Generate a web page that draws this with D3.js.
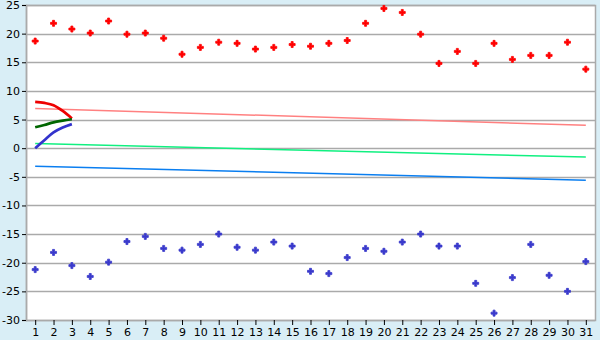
<!DOCTYPE html>
<html>
<head>
<meta charset="utf-8">
<script src="https://cdn.jsdelivr.net/npm/d3@7"></script>
<style>
  body { margin: 0; background: #d9eef6; }
  svg { display: block; }
  .tick text { font-family: "DejaVu Sans", Verdana, sans-serif; font-size: 11px; fill: #000; }
</style>
</head>
<body>
<div id="chart"></div>
<script>
let width = 600, height = 340;
let margin = {top: 5, right: 5, bottom: 20, left: 26};

let days = d3.range(1, 32);
let yTicks = [25, 20, 15, 10, 5, 0, -5, -10, -15, -20, -25, -30];

// daily highs (red) and lows (blue)
let highs = [18.7, 21.8, 20.8, 20.1, 22.2, 19.9, 20.1, 19.2, 16.4, 17.6, 18.5, 18.3, 17.3, 17.6, 18.1,
             17.8, 18.3, 18.8, 21.8, 24.4, 23.7, 19.9, 14.8, 16.9, 14.8, 18.3, 15.5, 16.2, 16.2, 18.5, 13.8];
let lows = [-21.2, -18.2, -20.5, -22.4, -19.9, -16.3, -15.4, -17.5, -17.8, -16.8, -15.0, -17.3, -17.8, -16.4, -17.1,
            -21.5, -21.9, -19.1, -17.5, -18.0, -16.4, -15.0, -17.1, -17.1, -23.6, -28.8, -22.6, -16.8, -22.2, -25.0, -19.8];

// trend lines (start and end values)
let trendDays = [1, 31];
let trendPink = [6.95, 4.0];
let trendGreen = [0.8, -1.55];
let trendBlue = [-3.15, -5.6];

// short thick curves over the first days
let curveDays = [1, 1.5, 2, 2.5, 3];
let curveRed = [8.1, 7.9, 7.5, 6.5, 5.2];
let curveGreen = [3.65, 4.05, 4.5, 4.8, 5.05];
let curveBlue = [0.0, 1.4, 2.75, 3.6, 4.2];

let svg = d3.select("#chart").append("svg")
    .attr("width", width)
    .attr("height", height);

let plotW = width - margin.left - margin.right;
let plotH = height - margin.top - margin.bottom;

let g = svg.append("g")
    .attr("transform", `translate(${margin.left}, ${margin.top})`);

let x = d3.scaleLinear()
    .domain([0.5, 31.5])
    .range([0, plotW]);

let y = d3.scaleLinear()
    .domain([-30, 25])
    .range([plotH, 0]);

g.append("rect")
    .attr("width", plotW)
    .attr("height", plotH)
    .attr("fill", "#fff");

// gridlines
g.append("g")
    .selectAll("line")
    .data(yTicks)
    .enter()
    .append("line")
    .attr("x1", 0)
    .attr("x2", plotW)
    .attr("y1", d => Math.round(y(d)) + 0.5)
    .attr("y2", d => Math.round(y(d)) + 0.5)
    .attr("stroke", "#aaa")
    .attr("stroke-width", 1.5);

g.append("rect")
    .attr("x", 0.5)
    .attr("y", 0.5)
    .attr("width", plotW)
    .attr("height", plotH)
    .attr("fill", "none")
    .attr("stroke", "#aaa")
    .attr("stroke-width", 1.5);

let straight = d3.line()
    .x(d => x(d[0]))
    .y(d => y(d[1]));

let smooth = d3.line()
    .x(d => x(d[0]))
    .y(d => y(d[1]))
    .curve(d3.curveMonotoneX);

function drawLine(xs, ys, color, w, gen) {
    g.append("path")
        .datum(d3.zip(xs, ys))
        .attr("d", gen)
        .attr("fill", "none")
        .attr("stroke", color)
        .attr("stroke-width", w);
}

drawLine(trendDays, trendPink, "#ff8080", 1.5, straight);
drawLine(trendDays, trendGreen, "#10f080", 1.5, straight);
drawLine(trendDays, trendBlue, "#0a7ef0", 1.5, straight);

drawLine(curveDays, curveRed, "#ee0000", 2.7, smooth);
drawLine(curveDays, curveGreen, "#006600", 2.7, smooth);
drawLine(curveDays, curveBlue, "#3333cc", 2.7, smooth);

let marker = d3.symbol().type(d3.symbolCross).size(20);

function drawPoints(vals, color) {
    g.append("g")
        .selectAll("path")
        .data(vals)
        .enter()
        .append("path")
        .attr("d", marker)
        .attr("transform", (d, i) => `translate(${x(days[i])}, ${y(d)})`)
        .attr("fill", color)
        .attr("stroke", color)
        .attr("stroke-width", 0.8);
}

drawPoints(highs, "#ff0000");
drawPoints(lows, "#3a3acc");

// axes
let yAxis = g.append("g")
    .call(d3.axisLeft(y).tickValues(yTicks).tickSize(4).tickPadding(2).tickFormat(d => String(d)));
yAxis.select(".domain").attr("stroke", "#aaa").attr("stroke-width", 1.5);
yAxis.selectAll(".tick line").attr("stroke", "#000");

let xAxis = g.append("g")
    .attr("transform", `translate(0, ${plotH})`)
    .call(d3.axisBottom(x).tickValues(days).tickSize(5).tickPadding(3).tickFormat(d => String(d)));
xAxis.select(".domain").remove();
xAxis.selectAll(".tick line").attr("stroke", "#000");
</script>
</body>
</html>
